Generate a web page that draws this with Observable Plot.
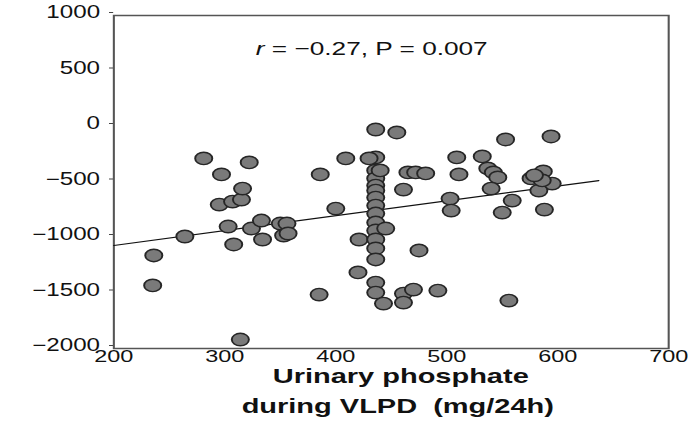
<!DOCTYPE html>
<html>
<head>
<meta charset="utf-8">
<script src="https://cdn.jsdelivr.net/npm/d3@7"></script>
<script src="https://cdn.jsdelivr.net/npm/@observablehq/plot@0.6"></script>
<style>
  html, body { margin: 0; padding: 0; background: #fff; }
  #chart { width: 690px; height: 436px; overflow: hidden; }
</style>
</head>
<body>
<div id="chart"></div>
<script>
// Urinary phosphate during VLPD (mg/24h)
const phosphate = [
  236, 235, 264, 281, 297, 295, 307, 315, 316, 322,
  303, 308, 314, 324, 333, 334, 350, 356, 353, 357,
  385, 386, 400, 409, 421, 420,
  436, 436, 436, 436, 436, 436, 436, 436, 436, 436, 436, 436, 436, 436, 436, 436,
  430, 440, 445, 443, 455, 461, 465, 472, 481, 475,
  461, 470, 461, 492, 503, 504, 509, 511, 532, 537,
  542, 546, 540, 550, 553, 556, 559, 576, 587, 595,
  583, 586, 588, 594, 579
];
// Change (y axis values, mg/24h)
const change = [
  -1162, -1432, -991, -288, -432, -703, -676, -658, -559, -324,
  -901, -1063, -1919, -919, -847, -1018, -874, -874, -982, -964,
  -1514, -432, -739, -288, -1018, -1315,
  -27, -279, -396, -468, -532, -577, -640, -712, -784, -865, -937, -1018, -1099, -1198, -1406, -1496,
  -288, -396, -919, -1595, -54, -568, -414, -414, -423, -1117,
  -1505, -1469, -1586, -1478, -649, -757, -279, -432, -270, -378,
  -414, -459, -559, -775, -117, -1568, -667, -468, -405, -514,
  -577, -486, -748, -90, -440
];
// Regression line end points
const fitX = [200, 637];
const fitY = [-1072, -487];

const xTicks = [200, 300, 400, 500, 600, 700];
const yTicks = [1000, 500, 0, -500, -1000, -1500, -2000];
const annotation = "r = −0.27, P = 0.007";
const titleLine1 = "Urinary phosphate";
const titleLine2 = "during VLPD  (mg/24h)";

const points = phosphate.map((x, i) => ({x, y: change[i]}));
const fit = fitX.map((x, i) => ({x, y: fitY[i]}));

const S = 1.38;              // horizontal stretch of the reference
const W = 690 / S;           // design width
const H = 436;
const fmt = d => (d < 0 ? "\u2212" : "") + Math.abs(d);

const plot = Plot.plot({
  width: W,
  height: H,
  marginLeft: 82,
  marginRight: W - 668 / S,
  marginTop: 15,
  marginBottom: 88,
  style: {fontFamily: "Liberation Sans, Arial, sans-serif", fontSize: "18px", color: "#111", background: "#fff"},
  x: {domain: [200, 700], ticks: xTicks, label: null},
  y: {domain: [-2000, 1000], ticks: yTicks, label: null},
  marks: [
    Plot.axisY({ticks: yTicks, tickFormat: fmt, tickSize: 3, tickPadding: 7, fontSize: 17.5, label: null, stroke: "#444", dy: -3}),
    Plot.axisX({ticks: xTicks, tickFormat: fmt, tickSize: 0, tickPadding: 1, fontSize: 17, label: null}),
    Plot.frame({stroke: "#555", strokeWidth: 1.5}),
    Plot.line(fit, {x: "x", y: "y", stroke: "#111", strokeWidth: 1.2}),
    Plot.dot(points, {x: "x", y: "y", r: 6.2, fill: "#7a7a7a", stroke: "#262626", strokeWidth: 1.4}),
    Plot.text([annotation], {frameAnchor: "top", dx: (371 - 390.5) / S, dy: 26, text: d => d, fontSize: 19, fill: "#111", className: "annot"}),
    Plot.text([titleLine1], {frameAnchor: "bottom", dx: (400 - 390.5) / S, dy: 34, text: d => d, fontSize: 21, fontWeight: "bold", fill: "#111"}),
    Plot.text([titleLine2], {frameAnchor: "bottom", dx: (397 - 390.5) / S, dy: 64, text: d => d, fontSize: 21, fontWeight: "bold", fill: "#111"})
  ]
});

// italic r in the annotation
plot.querySelectorAll(".annot text").forEach(t => {
  const txt = t.textContent;
  if (txt.startsWith("r")) {
    t.textContent = "";
    const ns = "http://www.w3.org/2000/svg";
    const a = document.createElementNS(ns, "tspan");
    a.setAttribute("font-style", "italic");
    a.textContent = "r";
    const b = document.createElementNS(ns, "tspan");
    b.textContent = txt.slice(1);
    t.appendChild(a); t.appendChild(b);
  }
});

// stretch horizontally like the reference image
plot.setAttribute("width", 690);
plot.setAttribute("height", H);
plot.setAttribute("preserveAspectRatio", "none");
plot.style.maxWidth = "none";
plot.style.width = "690px";
plot.style.height = H + "px";
document.getElementById("chart").appendChild(plot);
</script>
</body>
</html>
